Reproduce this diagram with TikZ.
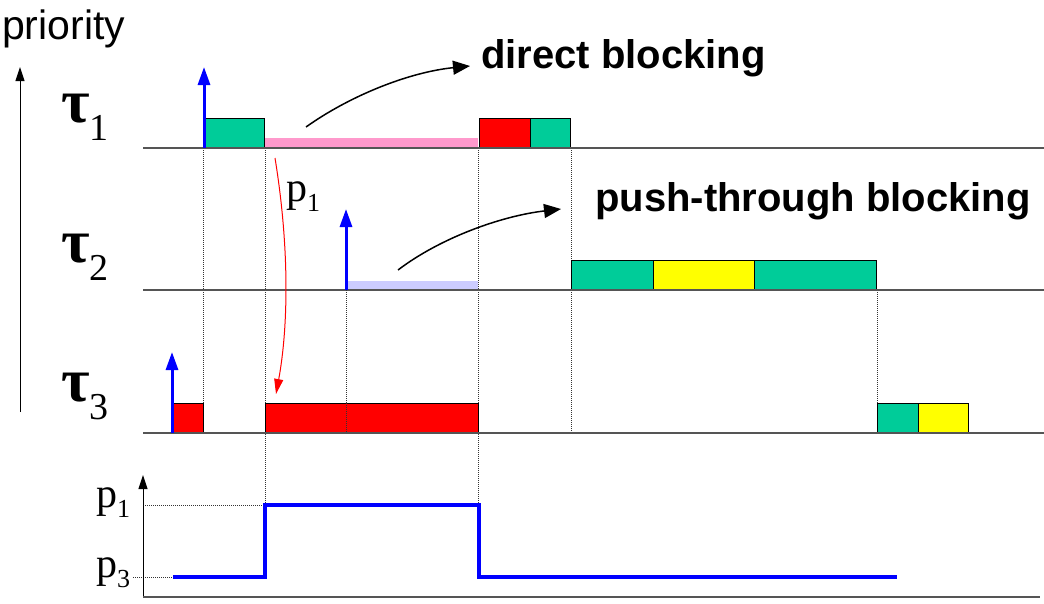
\documentclass[tikz,border=0pt]{standalone}
\usepackage{fontspec}
\setmainfont{Liberation Serif}
\setsansfont{Liberation Sans}
\usetikzlibrary{arrows.meta}

\definecolor{runcol}{HTML}{00CC99}
\definecolor{semcol}{HTML}{FF0000}
\definecolor{semtwocol}{HTML}{FFFF00}
\definecolor{blockcol}{HTML}{FF99CC}
\definecolor{pushcol}{HTML}{CCCCFF}
\definecolor{linecol}{HTML}{555555}

\tikzstyle{job} = [draw=black, line width=1pt]
\tikzstyle{timeline} = [draw=linecol, line width=2pt]
\tikzstyle{guide} = [draw=black!80, densely dotted, line width=1pt]
\tikzstyle{release} = [draw=blue, line width=3pt,
-{Triangle[length=18pt,width=12pt]}]
\tikzstyle{axis} = [draw=black, line width=1pt,
-{Triangle[length=14pt,width=9pt]}]
\tikzstyle{arrow} = [line width=1.5pt, -{Triangle[length=17pt,width=14pt]}]
\tikzstyle{label} = [anchor=base west, inner sep=0pt]
\tikzstyle{note} = [label, font=\sffamily\bfseries\fontsize{40}{40}\selectfont]

\newcommand{\tsk}[1]{{\fontsize{62}{62}\selectfont\bfseries τ}%
\raisebox{-18pt}{\fontsize{38}{38}\selectfont #1}}
\newcommand{\prio}[1]{{\fontsize{42}{42}\selectfont p}%
\raisebox{-10pt}{\fontsize{26}{26}\selectfont #1}}

\begin{document}
\begin{tikzpicture}[x=1pt, y=-1pt]
\useasboundingbox (0,0) rectangle (1044,603);

% labels
\node (prio) [label, font=\sffamily\fontsize{41}{41}\selectfont] at (2,39) {priority};
\node (tau1) [label] at (61,122) {\tsk{1}};
\node (tau2) [label] at (61,262) {\tsk{2}};
\node (tau3) [label] at (61,401) {\tsk{3}};
\node (direct) [note] at (481,68) {direct blocking};
\node (push) [note] at (595,211) {push-through blocking};
\node (pone) [label] at (286,201) {\prio{1}};
\node (lvlone) [label] at (96,507) {\prio{1}};
\node (lvlthree) [label] at (96,577) {\prio{3}};

\draw [axis] (20,412) -- (20,67);

% dotted guides
\draw [guide] (203,148) -- (203,403);
\draw [guide] (265,148) -- (265,505);
\draw [guide] (478,148) -- (478,505);
\draw [guide] (571,148) -- (571,433);
\draw [guide] (877,290) -- (877,403);
\draw [guide] (145,505) -- (265,505);
\draw [guide] (133,577) -- (173,577);

% tau 1
\draw [job, fill=runcol] (204,118) rectangle (264,148);
\fill [blockcol] (265,138) rectangle (478,148);
\draw [job, fill=semcol] (479,118) rectangle (530,148);
\draw [job, fill=runcol] (530,118) rectangle (570,148);
\draw [timeline] (143,148) -- (1044,148);
\draw [release] (204,148) -- (204,67);

% tau 2
\fill [pushcol] (346,281) rectangle (478,290);
\draw [job, fill=runcol] (571,260) rectangle (653,290);
\draw [job, fill=semtwocol] (653,260) rectangle (754,290);
\draw [job, fill=runcol] (754,260) rectangle (876,290);
\draw [timeline] (143,290) -- (1044,290);
\draw [guide] (346,290) -- (346,433);
\draw [release] (346,290) -- (346,209);

% tau 3
\draw [job, fill=semcol] (173,403) rectangle (203,433);
\draw [job, fill=semcol] (265,403) rectangle (478,433);
\draw [guide] (346,403) -- (346,433);
\draw [job, fill=runcol] (877,403) rectangle (918,433);
\draw [job, fill=semtwocol] (918,403) rectangle (968,433);
\draw [timeline] (143,433) -- (1044,433);
\draw [release] (172,433) -- (172,352);

% blocking arrows
\coordinate (dstart) at (306,127);
\coordinate (pstart) at (398,270);
\coordinate (inherit) at (275,158);
\coordinate (semthree) at (276,394);
\draw [arrow] (dstart) .. controls +(45,-32) and +(-60,6) .. ([shift={(-11,-2)}]direct.base west);
\draw [arrow] (pstart) .. controls +(42,-32) and +(-60,7) .. ([shift={(-34,-2)}]push.base west);
\draw [red, line width=1pt, -{Triangle[length=15pt,width=9pt]}]
(inherit) .. controls +(15,92) and +(12,-65) .. (semthree);

% priority of tau 3
\draw [axis] (143,597) -- (143,475);
\draw [timeline] (143,597) -- (1040,597);
\draw [blue, line width=4pt] (173,577) -- (265,577) -- (265,505)
-- (479,505) -- (479,577) -- (897,577);

\end{tikzpicture}
\end{document}
